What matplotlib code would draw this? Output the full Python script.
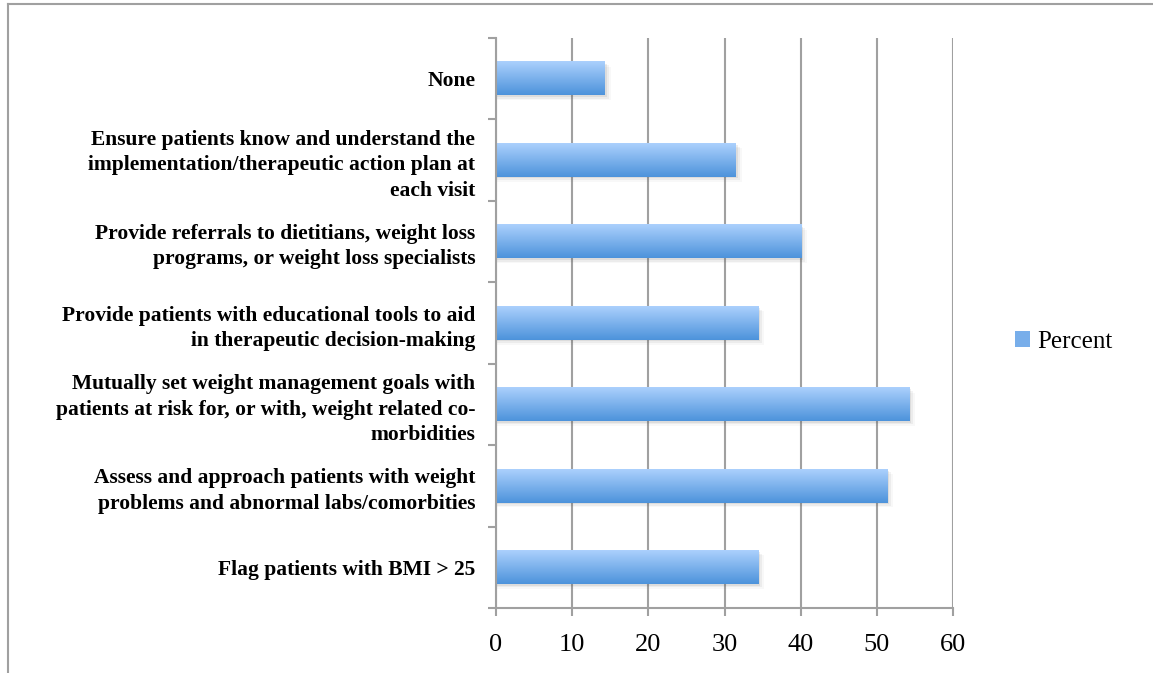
import numpy as np
import matplotlib
matplotlib.use("Agg")
import matplotlib.pyplot as plt
from matplotlib.patches import Patch
from matplotlib.lines import Line2D
from matplotlib.colors import LinearSegmentedColormap

# data, bottom to top
labels = [
    "Flag patients with BMI > 25",
    "Assess and approach patients with weight\nproblems and abnormal labs/comorbities",
    "Mutually set weight management goals with\npatients at risk for, or with, weight related co-\nmorbidities",
    "Provide patients with educational tools to aid\nin therapeutic decision-making",
    "Provide referrals to dietitians, weight loss\nprograms, or weight loss specialists",
    "Ensure patients know and understand the\nimplementation/therapeutic action plan at\neach visit",
    "None",
]
percent = [34.4, 51.4, 54.3, 34.4, 40.1, 31.5, 14.3]
x_ticks = [0, 10, 20, 30, 40, 50, 60]

SERIF = ["Liberation Serif", "DejaVu Serif"]
GRID = "#a0a0a0"
TOP_C, BOT_C = "#abd0fd", "#4d93db"

W, H = 1153, 673
fig = plt.figure(figsize=(W / 100, H / 100), dpi=100)
ax = fig.add_axes([496 / W, 1 - 608 / H, (953 - 496) / W, (608 - 38) / H])

y = np.arange(len(labels))
bar_h = 0.41
grad = LinearSegmentedColormap.from_list("bar", [BOT_C, TOP_C])
img = np.linspace(0, 1, 64).reshape(-1, 1)

for yi, v in zip(y, percent):
    # soft shadow
    for k, a in enumerate([0.10, 0.07, 0.04]):
        off = 0.02 * (k + 1)
        ax.add_patch(plt.Rectangle((0, yi - bar_h / 2 - off), v + 0.25 * (k + 1), bar_h,
                                   color="#555555", alpha=a, lw=0, zorder=2))
    ax.imshow(img, cmap=grad, aspect="auto", origin="lower",
              extent=(0, v, yi - bar_h / 2, yi + bar_h / 2), zorder=3)

ax.set_xlim(0, 60)
ax.set_ylim(-0.5, len(labels) - 0.5)
ax.set_xticks(x_ticks)
ax.set_xticklabels([str(t) for t in x_ticks], fontsize=19, family=SERIF)
ax.set_yticks(y)
ax.set_yticklabels(labels, fontsize=15.5, family=SERIF, fontweight="bold", linespacing=1.35)
ax.set_yticks(np.arange(-0.5, len(labels)), minor=True)
ax.tick_params(axis="y", which="major", length=0, pad=15)
ax.tick_params(axis="y", which="minor", length=6, width=1.5, color=GRID, direction="out")
ax.tick_params(axis="x", length=6, width=1.5, color=GRID, direction="out", pad=13)

ax.grid(True, axis="x", color=GRID, lw=1.5, zorder=1)
ax.set_axisbelow(True)
for s in ["top", "right"]:
    ax.spines[s].set_visible(False)
for s in ["left", "bottom"]:
    ax.spines[s].set_color(GRID)
    ax.spines[s].set_linewidth(1.5)
    ax.spines[s].set_zorder(4)

handle = Patch(facecolor="#78aeea", edgecolor="none")
fig.legend([handle], ["Percent"], loc="center left",
           bbox_to_anchor=(1015 / W, 1 - 342 / H), frameon=False,
           prop={"family": SERIF, "size": 18}, handlelength=0.6, handleheight=0.6,
           handletextpad=0.3, borderpad=0, borderaxespad=0)

# outer frame (only top and left edges visible)
fig.add_artist(Line2D([7.5 / W, 7.5 / W], [0, 1 - 4 / H], color=GRID, lw=1.5))
fig.add_artist(Line2D([7.5 / W, 1], [1 - 4 / H, 1 - 4 / H], color=GRID, lw=1.5))

fig.savefig("out.png", dpi=100)
